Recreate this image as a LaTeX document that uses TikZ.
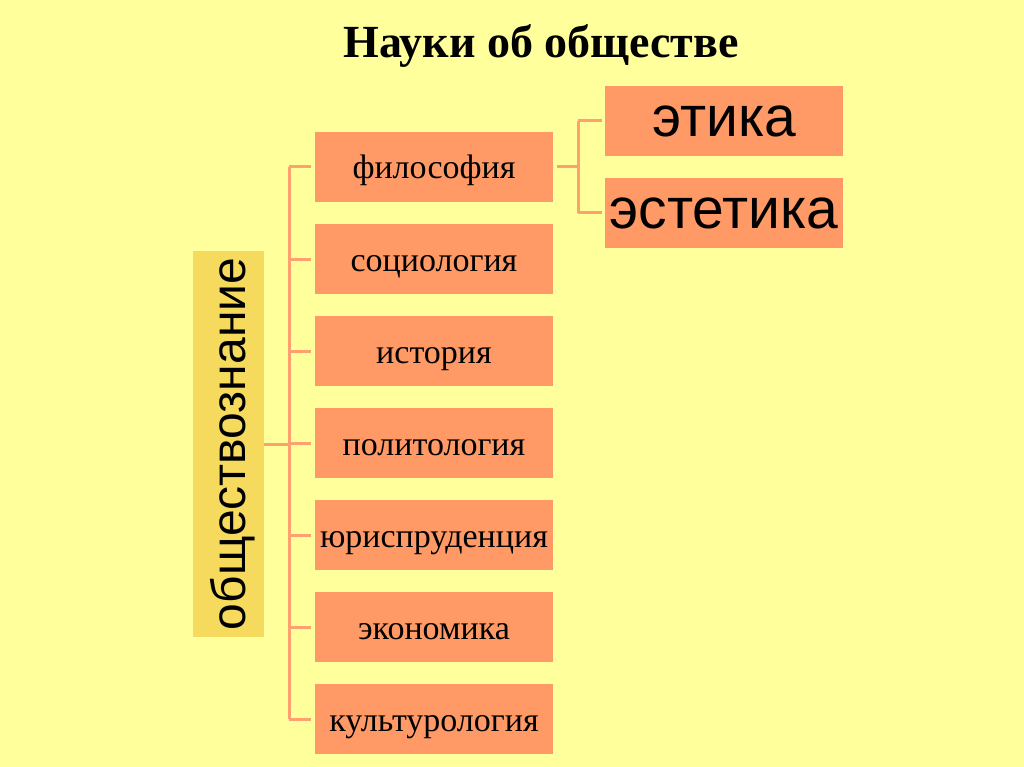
\documentclass[tikz,border=0pt]{standalone}
\usepackage{fontspec}
\setmainfont{Liberation Serif}
\setsansfont{Liberation Sans}
\usetikzlibrary{positioning}

\definecolor{bgyellow}{HTML}{FFFF9C}
\definecolor{salmon}{HTML}{FF9966}
\definecolor{gold}{HTML}{F6DA5E}
\definecolor{linkcolor}{HTML}{FFA070}

\begin{document}
\begin{tikzpicture}[x=1pt, y=1pt, node distance=92pt, thick]
        % Define styles
        \tikzstyle{science} = [rectangle, fill=salmon, minimum width=238pt, minimum height=70pt, inner sep=0pt, text height=24pt, text depth=0pt, font=\fontsize{34}{40}\selectfont]
        \tikzstyle{branch} = [rectangle, fill=salmon, minimum width=238pt, minimum height=70pt, inner sep=0pt, text height=32pt, text depth=0pt, font=\sffamily\fontsize{57}{64}\selectfont]
        \tikzstyle{fieldbox} = [rectangle, fill=gold, minimum width=386pt, minimum height=71pt, inner sep=0pt, text height=33pt, text depth=0pt, font=\sffamily\fontsize{48}{56}\selectfont]
        \tikzstyle{link} = [draw=linkcolor, line width=3pt]

        % Background
        \fill [bgyellow] (0,0) rectangle (1024,-767);
        \useasboundingbox (0,0) rectangle (1024,-767);

        % Nodes
        \node (title) [anchor=base, font=\bfseries\fontsize{46}{52}\selectfont] at (541,-58) {Науки об обществе};

        \node (phil) [science] at (434,-167) {философия};
        \node (soc) [science, below of=phil] {социология};
        \node (hist) [science, below of=soc] {история};
        \node (polit) [science, below of=hist] {политология};
        \node (law) [science, below of=polit] {юриспруденция};
        \node (econ) [science, below of=law] {экономика};
        \node (cult) [science, below of=econ] {культурология};

        \node (field) [fieldbox, rotate=90] at (228.5,-444) {обществознание};

        \node (ethics) [branch] at (724,-121) {этика};
        \node (aesth) [branch, below of=ethics] {эстетика};

        % Connections
        \coordinate (bus) at (289,-444);
        \coordinate (fork) at (578,-167);

        \draw [link] (field.south) -- (bus);
        \draw [link, shorten >=4pt] (bus |- phil.west) -- (phil.west);
        \draw [link] (bus |- phil.west) -- (bus |- cult.west);
        \foreach \n in {soc, hist, polit, law, econ, cult}
            \draw [link, shorten >=4pt] (bus |- \n.west) -- (\n.west);

        \draw [link, shorten <=4pt] (phil.east) -- (fork);
        \draw [link] (fork |- ethics.west) -- (fork |- aesth.west);
        \draw [link, shorten >=3pt] (fork |- ethics.west) -- (ethics.west);
        \draw [link, shorten >=3pt] (fork |- aesth.west) -- (aesth.west);

    \end{tikzpicture}
\end{document}
